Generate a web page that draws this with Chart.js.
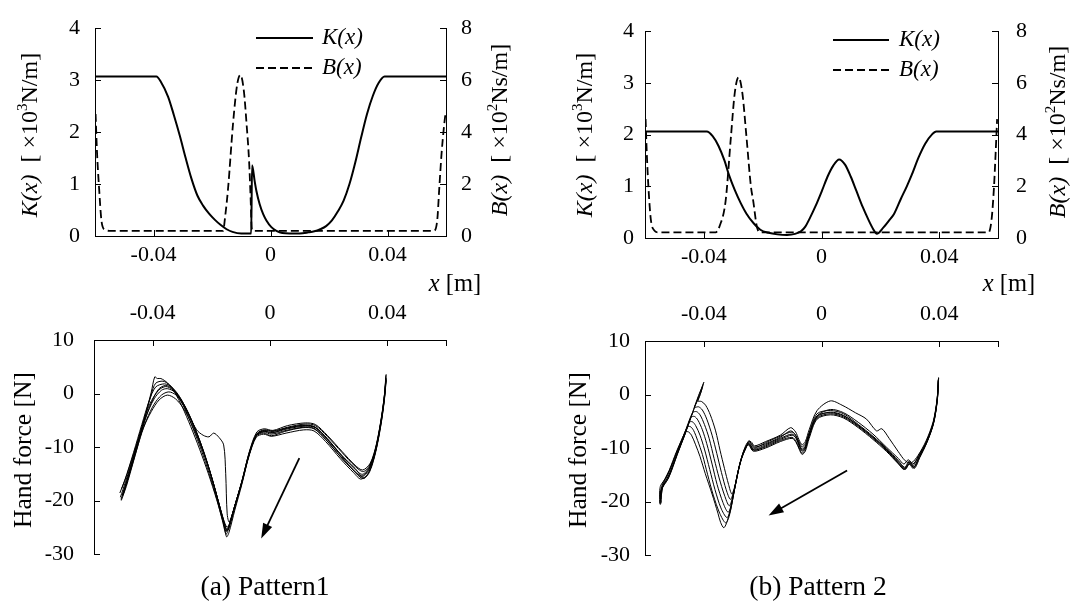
<!DOCTYPE html>
<html>
<head>
<meta charset="utf-8">
<script src="https://cdn.jsdelivr.net/npm/chart.js@4.4.1/dist/chart.umd.min.js"></script>
<style>
  body { margin: 0; background: #fff; }
  #wrap { position: relative; width: 1074px; height: 605px; }
  canvas { position: absolute; }
</style>
</head>
<body>
<div id="wrap">
  <canvas id="kbA" width="537" height="300" style="left:0;top:0"></canvas>
  <canvas id="kbB" width="537" height="300" style="left:537px;top:0"></canvas>
  <canvas id="hfA" width="537" height="305" style="left:0;top:300px"></canvas>
  <canvas id="hfB" width="537" height="305" style="left:537px;top:300px"></canvas>
</div>
<script>
// tick values
const xTickValues = [-0.04, 0, 0.04];

// pattern 1: stiffness K(x) [x10^3 N/m] and damping B(x) [x10^2 Ns/m]
const stiffX1 = [-0.060, -0.0390, -0.0375, -0.0350, -0.0330, -0.0310, -0.0290, -0.0270, -0.0250, -0.0230, -0.0210, -0.0190, -0.0170, -0.0150, -0.0130, -0.0100, -0.0066, -0.0063, -0.0054, -0.0048, -0.0037, -0.0025, -0.0014, 0.0003, 0.0020, 0.0040, 0.0100, 0.0130, 0.0150, 0.0170, 0.0190, 0.0210, 0.0230, 0.0250, 0.0270, 0.0290, 0.0310, 0.0330, 0.0350, 0.0370, 0.0390, 0.060];
const stiffK1 = [3.07, 3.07, 2.97, 2.68, 2.32, 1.93, 1.50, 1.10, 0.78, 0.58, 0.43, 0.31, 0.21, 0.13, 0.08, 0.05, 0.05, 1.36, 1.05, 0.86, 0.61, 0.42, 0.30, 0.17, 0.10, 0.06, 0.05, 0.07, 0.09, 0.13, 0.19, 0.30, 0.47, 0.68, 1.00, 1.42, 1.90, 2.35, 2.70, 2.95, 3.07, 3.07];
const dampX1 = [-0.0598, -0.0593, -0.0586, -0.0578, -0.0567, -0.0550, -0.0162, -0.0155, -0.0145, -0.0128, -0.0114, -0.0103, -0.0091, -0.0082, -0.0073, -0.0068, -0.0065, -0.0062, 0.0558, 0.0570, 0.0577, 0.0585, 0.0593, 0.0598];
const dampB1 = [4.70, 3.20, 1.84, 0.60, 0.25, 0.20, 0.20, 0.75, 1.84, 4.34, 5.83, 6.20, 5.58, 4.34, 2.84, 1.47, 0.47, 0.20, 0.20, 0.60, 1.84, 3.20, 4.20, 4.70];

// pattern 2
const stiffX2 = [-0.060, -0.0390, -0.0370, -0.0350, -0.0330, -0.0314, -0.0295, -0.0275, -0.0255, -0.0230, -0.0208, -0.0180, -0.0150, -0.0117, -0.0090, -0.0070, -0.0055, -0.0040, -0.0020, 0.0002, 0.0020, 0.0040, 0.0060, 0.0080, 0.0100, 0.0118, 0.0140, 0.0159, 0.0175, 0.0188, 0.0210, 0.0230, 0.0247, 0.0270, 0.0290, 0.0306, 0.0330, 0.0353, 0.0375, 0.0390, 0.060];
const stiffK2 = [2.06, 2.06, 1.97, 1.78, 1.50, 1.21, 0.93, 0.68, 0.47, 0.28, 0.16, 0.10, 0.07, 0.06, 0.08, 0.13, 0.22, 0.38, 0.62, 0.92, 1.18, 1.40, 1.52, 1.42, 1.18, 0.92, 0.60, 0.36, 0.18, 0.08, 0.20, 0.34, 0.47, 0.76, 1.00, 1.21, 1.56, 1.83, 2.00, 2.06, 2.06];
const dampX2 = [-0.0598, -0.0594, -0.0588, -0.0580, -0.0569, -0.0555, -0.0360, -0.0345, -0.0326, -0.0308, -0.0295, -0.0282, -0.0269, -0.0255, -0.0240, -0.0232, -0.0220, -0.0210, 0.0568, 0.0578, 0.0586, 0.0592, 0.0597];
const dampB2 = [4.60, 3.30, 1.90, 0.70, 0.30, 0.22, 0.22, 0.50, 1.43, 3.90, 5.60, 6.22, 5.60, 3.90, 2.00, 1.43, 0.45, 0.22, 0.22, 0.70, 1.90, 3.30, 4.60];

// hand force trials, pattern 1: [x (m), force (N)]
const forceA1 = [[-0.0508,-19.8],[-0.0490,-16.8],[-0.0460,-10.9],[-0.0430,-5.0],[-0.0405,0.2],[-0.0393,3.1],[-0.0384,2.8],[-0.0372,2.8],[-0.0350,2.0],[-0.0325,0.2],[-0.0300,-2.4],[-0.0270,-6.2],[-0.0240,-10.4],[-0.0210,-15.0],[-0.0182,-19.8],[-0.0162,-23.6],[-0.0150,-25.8],[-0.0142,-25.2],[-0.0120,-21.0],[-0.0095,-16.4],[-0.0070,-11.2],[-0.0045,-7.6],[-0.0020,-7.0],[0.0005,-7.4],[0.0050,-6.6],[0.0110,-6.0],[0.0150,-6.2],[0.0190,-8.2],[0.0240,-11.3],[0.0285,-13.9],[0.0315,-15.1],[0.0340,-13.6],[0.0362,-10.0],[0.0380,-4.8],[0.0390,-0.5],[0.0395,3.4]];
const forceA2 = [[-0.0503,-19.2],[-0.0485,-16.0],[-0.0455,-10.2],[-0.0428,-4.8],[-0.0405,-0.2],[-0.0390,1.9],[-0.0365,2.3],[-0.0342,1.6],[-0.0316,-0.2],[-0.0290,-2.9],[-0.0262,-6.6],[-0.0234,-10.6],[-0.0206,-15.2],[-0.0180,-20.0],[-0.0162,-23.8],[-0.0150,-26.3],[-0.0143,-25.6],[-0.0122,-21.4],[-0.0097,-16.8],[-0.0072,-11.6],[-0.0047,-8.0],[-0.0022,-7.4],[0.0005,-7.9],[0.0050,-7.1],[0.0110,-6.4],[0.0150,-6.6],[0.0190,-8.6],[0.0240,-11.8],[0.0285,-14.4],[0.0312,-15.6],[0.0338,-14.2],[0.0360,-10.6],[0.0378,-5.4],[0.0389,-1.0],[0.0396,2.8]];
const forceA3 = [[-0.0512,-18.6],[-0.0495,-16.2],[-0.0465,-11.0],[-0.0437,-5.8],[-0.0412,-1.4],[-0.0390,1.2],[-0.0360,1.8],[-0.0335,1.2],[-0.0308,-0.6],[-0.0282,-3.4],[-0.0254,-7.0],[-0.0227,-11.0],[-0.0200,-15.6],[-0.0176,-20.2],[-0.0160,-23.4],[-0.0148,-25.4],[-0.0141,-24.9],[-0.0120,-21.0],[-0.0096,-16.5],[-0.0071,-11.2],[-0.0046,-7.7],[-0.0020,-6.9],[0.0010,-7.1],[0.0060,-6.3],[0.0120,-5.7],[0.0155,-6.0],[0.0195,-8.0],[0.0245,-11.0],[0.0290,-13.6],[0.0318,-14.6],[0.0342,-13.2],[0.0362,-9.8],[0.0380,-4.5],[0.0391,0.2],[0.0395,3.0]];
const forceA4 = [[-0.0506,-17.8],[-0.0488,-15.2],[-0.0460,-10.4],[-0.0432,-5.4],[-0.0410,-2.0],[-0.0380,0.6],[-0.0355,1.3],[-0.0330,0.6],[-0.0302,-1.6],[-0.0275,-4.2],[-0.0250,-6.8],[-0.0228,-7.8],[-0.0208,-8.1],[-0.0192,-7.4],[-0.0174,-8.2],[-0.0158,-9.6],[-0.0151,-15.0],[-0.0146,-22.5],[-0.0139,-24.0],[-0.0118,-20.6],[-0.0094,-16.0],[-0.0070,-10.8],[-0.0045,-7.2],[-0.0020,-6.6],[0.0010,-6.9],[0.0060,-6.0],[0.0120,-5.5],[0.0155,-5.8],[0.0195,-7.8],[0.0245,-10.8],[0.0290,-13.4],[0.0316,-14.3],[0.0342,-13.0],[0.0363,-9.4],[0.0381,-4.0],[0.0392,0.6],[0.0396,3.6]];
const forceA5 = [[-0.0510,-19.4],[-0.0492,-16.4],[-0.0463,-11.4],[-0.0440,-7.4],[-0.0425,-4.6],[-0.0395,-1.0],[-0.0370,0.6],[-0.0350,0.9],[-0.0325,0.3],[-0.0300,-1.4],[-0.0275,-4.0],[-0.0248,-7.6],[-0.0222,-11.6],[-0.0196,-16.2],[-0.0174,-20.6],[-0.0158,-23.6],[-0.0147,-25.0],[-0.0140,-24.6],[-0.0119,-20.8],[-0.0095,-16.2],[-0.0070,-10.9],[-0.0045,-7.5],[-0.0020,-6.8],[0.0010,-7.0],[0.0060,-6.4],[0.0120,-5.9],[0.0155,-6.3],[0.0195,-8.4],[0.0245,-11.6],[0.0290,-14.0],[0.0320,-15.8],[0.0340,-14.6],[0.0361,-10.8],[0.0379,-5.6],[0.0390,-1.2],[0.0396,2.5]];
const forceA6 = [[-0.0500,-18.8],[-0.0482,-15.6],[-0.0452,-10.0],[-0.0426,-5.0],[-0.0405,-1.8],[-0.0380,0.8],[-0.0356,1.5],[-0.0332,0.9],[-0.0305,-1.0],[-0.0278,-3.8],[-0.0250,-7.3],[-0.0224,-11.2],[-0.0198,-15.8],[-0.0175,-20.4],[-0.0160,-23.6],[-0.0148,-25.6],[-0.0141,-25.0],[-0.0121,-21.2],[-0.0096,-16.6],[-0.0072,-11.5],[-0.0047,-7.9],[-0.0022,-7.2],[0.0005,-7.6],[0.0055,-6.9],[0.0115,-6.3],[0.0150,-6.5],[0.0190,-8.6],[0.0240,-11.8],[0.0285,-14.3],[0.0313,-15.4],[0.0338,-14.0],[0.0360,-10.4],[0.0379,-5.0],[0.0390,-0.8],[0.0395,2.9]];
const forceA7 = [[-0.0507,-20.0],[-0.0490,-17.4],[-0.0465,-12.6],[-0.0442,-8.2],[-0.0420,-4.8],[-0.0395,-2.0],[-0.0370,-0.3],[-0.0345,0.3],[-0.0320,-0.3],[-0.0295,-2.0],[-0.0270,-4.7],[-0.0243,-8.3],[-0.0218,-12.2],[-0.0193,-16.8],[-0.0172,-21.0],[-0.0157,-24.0],[-0.0148,-25.6],[-0.0141,-25.4],[-0.0120,-21.4],[-0.0095,-16.6],[-0.0071,-11.4],[-0.0046,-7.8],[-0.0020,-7.1],[0.0010,-7.3],[0.0060,-6.6],[0.0120,-6.1],[0.0155,-6.4],[0.0195,-8.6],[0.0245,-11.8],[0.0288,-14.6],[0.0318,-15.9],[0.0340,-14.4],[0.0361,-10.6],[0.0379,-5.2],[0.0390,-1.0],[0.0396,2.6]];
const forceA8 = [[-0.0504,-19.0],[-0.0488,-16.2],[-0.0470,-12.8],[-0.0456,-10.0],[-0.0430,-6.2],[-0.0405,-3.4],[-0.0378,-1.2],[-0.0350,-0.3],[-0.0322,-1.0],[-0.0295,-2.8],[-0.0268,-5.6],[-0.0240,-9.2],[-0.0213,-13.2],[-0.0190,-17.4],[-0.0170,-21.6],[-0.0156,-24.8],[-0.0148,-26.8],[-0.0140,-26.0],[-0.0120,-21.8],[-0.0096,-17.0],[-0.0072,-11.8],[-0.0047,-8.2],[-0.0022,-7.6],[0.0005,-8.0],[0.0055,-7.4],[0.0115,-6.8],[0.0150,-7.0],[0.0190,-9.0],[0.0240,-12.2],[0.0285,-14.8],[0.0310,-16.0],[0.0336,-14.8],[0.0359,-11.0],[0.0378,-5.8],[0.0389,-1.4],[0.0395,2.4]];
const trialsA = [forceA1, forceA2, forceA3, forceA4, forceA5, forceA6, forceA7, forceA8];

// hand force trials, pattern 2
const forceB1 = [[-0.0546,-20.4],[-0.0545,-17.6],[-0.0520,-15.6],[-0.0490,-11.2],[-0.0460,-6.8],[-0.0430,-2.2],[-0.0410,0.8],[-0.0400,2.3],[-0.0410,0.4],[-0.0420,-1.2],[-0.0408,-1.3],[-0.0394,-2.0],[-0.0378,-3.8],[-0.0360,-6.8],[-0.0345,-10.4],[-0.0330,-13.8],[-0.0316,-16.8],[-0.0305,-18.6],[-0.0297,-17.6],[-0.0288,-15.6],[-0.0278,-13.0],[-0.0265,-10.6],[-0.0252,-9.0],[-0.0240,-8.8],[-0.0228,-9.6],[-0.0190,-8.8],[-0.0140,-7.6],[-0.0105,-6.2],[-0.0088,-7.0],[-0.0077,-8.4],[-0.0066,-9.4],[-0.0055,-8.8],[-0.0042,-6.6],[-0.0015,-3.0],[0.0030,-1.2],[0.0070,-2.0],[0.0115,-3.4],[0.0153,-4.6],[0.0187,-6.8],[0.0205,-6.4],[0.0230,-8.2],[0.0260,-10.6],[0.0285,-12.4],[0.0305,-12.8],[0.0328,-11.4],[0.0356,-8.6],[0.0380,-5.0],[0.0393,-0.8],[0.0398,3.0]];
const forceB2 = [[-0.0548,-20.6],[-0.0546,-18.0],[-0.0522,-15.8],[-0.0492,-11.4],[-0.0462,-7.0],[-0.0440,-3.6],[-0.0418,-0.2],[-0.0404,1.6],[-0.0416,-0.6],[-0.0432,-2.4],[-0.0418,-2.3],[-0.0405,-2.9],[-0.0390,-4.6],[-0.0372,-7.6],[-0.0356,-11.0],[-0.0340,-14.6],[-0.0324,-17.8],[-0.0310,-19.6],[-0.0301,-18.6],[-0.0290,-16.2],[-0.0279,-13.4],[-0.0266,-10.8],[-0.0253,-9.4],[-0.0242,-9.0],[-0.0228,-9.8],[-0.0190,-9.2],[-0.0140,-8.0],[-0.0105,-6.8],[-0.0088,-7.6],[-0.0077,-8.8],[-0.0066,-9.8],[-0.0055,-9.2],[-0.0042,-7.2],[-0.0015,-4.0],[0.0030,-2.8],[0.0075,-3.4],[0.0125,-5.2],[0.0175,-7.4],[0.0220,-9.8],[0.0262,-12.0],[0.0280,-13.0],[0.0295,-12.2],[0.0310,-13.0],[0.0330,-11.6],[0.0358,-8.8],[0.0381,-5.2],[0.0394,-0.8],[0.0398,3.2]];
const forceB3 = [[-0.0547,-19.8],[-0.0540,-17.4],[-0.0515,-14.6],[-0.0488,-10.6],[-0.0460,-6.4],[-0.0438,-3.4],[-0.0425,-3.2],[-0.0413,-3.8],[-0.0398,-5.6],[-0.0382,-8.2],[-0.0365,-12.0],[-0.0348,-15.6],[-0.0330,-18.8],[-0.0314,-20.8],[-0.0304,-19.6],[-0.0292,-16.8],[-0.0281,-13.8],[-0.0268,-11.2],[-0.0255,-9.6],[-0.0244,-9.4],[-0.0229,-10.4],[-0.0190,-9.6],[-0.0140,-8.4],[-0.0100,-7.6],[-0.0086,-8.2],[-0.0076,-9.4],[-0.0066,-10.4],[-0.0055,-9.8],[-0.0042,-7.6],[-0.0015,-4.2],[0.0030,-3.3],[0.0075,-3.9],[0.0125,-5.8],[0.0175,-8.0],[0.0220,-10.2],[0.0262,-12.6],[0.0285,-13.8],[0.0300,-12.4],[0.0315,-13.6],[0.0333,-11.8],[0.0358,-9.0],[0.0381,-5.4],[0.0393,-1.2],[0.0397,2.6]];
const forceB4 = [[-0.0545,-20.2],[-0.0544,-17.8],[-0.0518,-15.0],[-0.0490,-11.0],[-0.0465,-7.6],[-0.0444,-4.3],[-0.0432,-4.1],[-0.0420,-4.8],[-0.0405,-6.6],[-0.0390,-9.2],[-0.0372,-13.0],[-0.0355,-16.8],[-0.0335,-20.2],[-0.0318,-22.0],[-0.0308,-21.0],[-0.0295,-17.6],[-0.0283,-14.2],[-0.0270,-11.6],[-0.0256,-9.8],[-0.0246,-8.6],[-0.0230,-10.0],[-0.0190,-9.0],[-0.0140,-7.8],[-0.0100,-7.0],[-0.0086,-7.8],[-0.0076,-9.2],[-0.0066,-10.2],[-0.0055,-9.6],[-0.0042,-7.2],[-0.0015,-3.6],[0.0030,-3.0],[0.0075,-3.6],[0.0125,-5.6],[0.0175,-7.8],[0.0220,-10.0],[0.0262,-12.4],[0.0282,-13.6],[0.0298,-13.0],[0.0312,-13.8],[0.0332,-11.6],[0.0358,-8.9],[0.0381,-5.2],[0.0394,-0.8],[0.0398,3.0]];
const forceB5 = [[-0.0550,-20.4],[-0.0548,-17.2],[-0.0524,-15.2],[-0.0495,-11.2],[-0.0470,-8.2],[-0.0450,-5.2],[-0.0439,-5.1],[-0.0428,-5.8],[-0.0413,-7.6],[-0.0398,-10.2],[-0.0380,-14.0],[-0.0362,-17.8],[-0.0342,-21.2],[-0.0322,-23.0],[-0.0311,-22.0],[-0.0298,-18.4],[-0.0285,-14.8],[-0.0272,-12.0],[-0.0258,-10.2],[-0.0248,-9.2],[-0.0232,-10.4],[-0.0190,-9.8],[-0.0140,-8.6],[-0.0100,-8.0],[-0.0086,-8.8],[-0.0076,-10.0],[-0.0066,-11.0],[-0.0055,-10.2],[-0.0042,-7.8],[-0.0015,-4.4],[0.0030,-3.6],[0.0075,-4.2],[0.0125,-6.0],[0.0175,-8.2],[0.0220,-10.4],[0.0260,-12.8],[0.0280,-14.0],[0.0296,-12.6],[0.0310,-13.4],[0.0330,-11.4],[0.0357,-8.8],[0.0380,-5.4],[0.0393,-1.0],[0.0397,2.8]];
const forceB6 = [[-0.0546,-19.6],[-0.0538,-16.8],[-0.0512,-13.6],[-0.0488,-10.2],[-0.0470,-7.8],[-0.0456,-6.1],[-0.0446,-6.0],[-0.0435,-6.7],[-0.0421,-8.6],[-0.0405,-11.2],[-0.0387,-15.0],[-0.0368,-18.8],[-0.0346,-22.2],[-0.0326,-24.0],[-0.0314,-22.8],[-0.0300,-19.0],[-0.0287,-15.2],[-0.0273,-12.2],[-0.0258,-10.0],[-0.0247,-9.0],[-0.0231,-10.2],[-0.0190,-9.4],[-0.0140,-8.2],[-0.0100,-7.4],[-0.0086,-8.2],[-0.0076,-9.6],[-0.0066,-10.6],[-0.0055,-10.0],[-0.0042,-7.6],[-0.0015,-4.0],[0.0030,-3.4],[0.0075,-4.0],[0.0125,-5.8],[0.0175,-8.0],[0.0220,-10.2],[0.0262,-12.8],[0.0285,-14.0],[0.0300,-12.8],[0.0316,-13.8],[0.0334,-11.8],[0.0358,-9.0],[0.0381,-5.4],[0.0394,-1.0],[0.0398,3.0]];
const forceB7 = [[-0.0549,-20.0],[-0.0542,-17.0],[-0.0518,-14.2],[-0.0494,-10.8],[-0.0475,-8.4],[-0.0462,-7.0],[-0.0452,-7.0],[-0.0442,-7.6],[-0.0428,-9.4],[-0.0413,-11.6],[-0.0395,-14.8],[-0.0372,-18.6],[-0.0352,-22.2],[-0.0343,-23.9],[-0.0332,-24.9],[-0.0320,-23.6],[-0.0305,-20.0],[-0.0290,-16.0],[-0.0276,-12.6],[-0.0260,-10.2],[-0.0248,-9.4],[-0.0232,-10.6],[-0.0190,-10.0],[-0.0140,-8.8],[-0.0100,-8.2],[-0.0086,-9.0],[-0.0076,-10.2],[-0.0066,-11.2],[-0.0055,-10.6],[-0.0042,-8.2],[-0.0015,-4.6],[0.0030,-3.8],[0.0075,-4.4],[0.0125,-6.2],[0.0175,-8.4],[0.0220,-10.6],[0.0262,-13.0],[0.0282,-14.0],[0.0298,-13.0],[0.0314,-13.6],[0.0332,-11.6],[0.0357,-8.8],[0.0380,-5.2],[0.0393,-1.0],[0.0397,2.8]];
const trialsB = [forceB1, forceB2, forceB3, forceB4, forceB5, forceB6, forceB7];

// direction arrows [start, end] in data units
const arrowA = [[0.0100, -12.1], [-0.0030, -27.1]];
const arrowB = [[0.0087, -14.2], [-0.0180, -22.6]];

const FONT = '"Liberation Serif", "Times New Roman", serif';
Chart.defaults.font.family = FONT;
Chart.defaults.color = '#000';

function drawRich(ctx, t) {
  const size = t.size || 23;
  const fontFor = st => (st === 'i' ? 'italic ' : '') + (st === 's' ? Math.round(size * 0.62) : size) + 'px ' + FONT;
  ctx.save();
  ctx.translate(t.x, t.y);
  if (t.rot) ctx.rotate(-Math.PI / 2);
  ctx.textBaseline = 'middle';
  ctx.textAlign = 'left';
  let w = 0;
  t.segs.forEach(([s, st]) => { ctx.font = fontFor(st); w += ctx.measureText(s).width; });
  let cx = t.align === 'left' ? 0 : -w / 2;
  t.segs.forEach(([s, st]) => {
    ctx.font = fontFor(st);
    ctx.fillText(s, cx, st === 's' ? -size * 0.33 : 0);
    cx += ctx.measureText(s).width;
  });
  ctx.restore();
}

// inward tick marks, titles, legend and arrow
function decor(cfg) {
  return {
    id: 'decor',
    afterDraw(chart) {
      const ctx = chart.ctx, area = chart.chartArea;
      ctx.save();
      ctx.strokeStyle = '#000';
      ctx.fillStyle = '#000';
      ctx.lineWidth = 1;
      Object.values(chart.scales).forEach(s => {
        const vals = s.ticks.map(t => t.value).concat(s.axis === 'x' ? (cfg.extraX || []) : []);
        vals.forEach(v => {
          const p = Math.round(s.getPixelForValue(v)) + 0.5;
          ctx.beginPath();
          if (s.position === 'left') { ctx.moveTo(area.left, p); ctx.lineTo(area.left + 6, p); }
          else if (s.position === 'right') { ctx.moveTo(area.right, p); ctx.lineTo(area.right - 6, p); }
          else if (s.position === 'bottom') { ctx.moveTo(p, area.bottom); ctx.lineTo(p, area.bottom - 6); }
          else { ctx.moveTo(p, area.top); ctx.lineTo(p, area.top + 6); }
          ctx.stroke();
        });
      });

      (cfg.legend || []).forEach(it => {
        const ds = chart.data.datasets[it.ds];
        ctx.lineWidth = ds.borderWidth;
        ctx.setLineDash(ds.borderDash || []);
        ctx.beginPath();
        ctx.moveTo(it.x1, it.y);
        ctx.lineTo(it.x2, it.y);
        ctx.stroke();
        ctx.setLineDash([]);
        drawRich(ctx, { x: it.tx, y: it.y, align: 'left', segs: [[ds.label, 'i']] });
      });

      if (cfg.arrow) {
        const xs = chart.scales.x, ys = chart.scales.y;
        const x1 = xs.getPixelForValue(cfg.arrow[0][0]), y1 = ys.getPixelForValue(cfg.arrow[0][1]);
        const x2 = xs.getPixelForValue(cfg.arrow[1][0]), y2 = ys.getPixelForValue(cfg.arrow[1][1]);
        const a = Math.atan2(y2 - y1, x2 - x1);
        const L = 15, W = 5;
        ctx.lineWidth = 1.8;
        ctx.beginPath();
        ctx.moveTo(x1, y1);
        ctx.lineTo(x2 - Math.cos(a) * L * 0.8, y2 - Math.sin(a) * L * 0.8);
        ctx.stroke();
        ctx.beginPath();
        ctx.moveTo(x2, y2);
        ctx.lineTo(x2 - L * Math.cos(a) + W * Math.sin(a), y2 - L * Math.sin(a) - W * Math.cos(a));
        ctx.lineTo(x2 - L * Math.cos(a) - W * Math.sin(a), y2 - L * Math.sin(a) + W * Math.cos(a));
        ctx.closePath();
        ctx.fill();
      }

      (cfg.texts || []).forEach(t => drawRich(ctx, t));
      ctx.restore();
    }
  };
}

const tickFont = { family: FONT, size: 22 };

function xAxis(pos, height, pad) {
  return {
    type: 'linear', position: pos, min: -0.06, max: 0.06,
    afterBuildTicks: s => { s.ticks = xTickValues.map(v => ({ value: v })); },
    ticks: { padding: pad, font: tickFont, maxRotation: 0, autoSkip: false,
             callback: v => (v === 0 ? '0' : v.toFixed(2)) },
    grid: { display: false, drawTicks: false },
    border: { display: true, color: '#000', width: 1 },
    afterFit: s => { s.height = height; }
  };
}

function yAxis(pos, min, max, step, width, pad) {
  return {
    type: 'linear', position: pos, min: min, max: max,
    ticks: { stepSize: step, padding: pad, font: tickFont },
    grid: { display: false, drawTicks: false },
    border: { display: true, color: '#000', width: 1 },
    afterFit: s => { s.width = width; }
  };
}

function makeTop(id, kX, kY, bX, bY, geo, cfg) {
  return new Chart(document.getElementById(id), {
    type: 'scatter',
    data: {
      datasets: [
        { label: 'K(x)', data: kX.map((x, i) => ({ x: x, y: kY[i] })), yAxisID: 'y',
          showLine: true, borderColor: '#000', borderWidth: 2, pointRadius: 0, cubicInterpolationMode: 'monotone' },
        { label: 'B(x)', data: bX.map((x, i) => ({ x: x, y: bY[i] })), yAxisID: 'y2',
          showLine: true, borderColor: '#000', borderWidth: 1.8, borderDash: [8, 4], pointRadius: 0, cubicInterpolationMode: 'monotone' }
      ]
    },
    options: {
      responsive: false, animation: false, events: [],
      layout: { autoPadding: false, padding: { top: geo.top, left: 0, right: 0, bottom: 0 } },
      plugins: { legend: { display: false }, tooltip: { enabled: false } },
      scales: {
        x: xAxis('bottom', geo.xh, 6),
        y: yAxis('left', 0, 4, 1, geo.yw, geo.ypad),
        y2: yAxis('right', 0, 8, 2, geo.y2w, geo.y2pad)
      }
    },
    plugins: [decor(cfg)]
  });
}

function makeForce(id, trials, geo, cfg) {
  return new Chart(document.getElementById(id), {
    type: 'scatter',
    data: {
      datasets: trials.map(t => ({
        data: t.map(p => ({ x: p[0], y: p[1] })),
        showLine: true, borderColor: '#000', borderWidth: 1, pointRadius: 0, tension: 0.3
      }))
    },
    options: {
      responsive: false, animation: false, events: [],
      layout: { autoPadding: false, padding: { top: 0, left: 0, right: geo.right, bottom: geo.bottom } },
      plugins: { legend: { display: false }, tooltip: { enabled: false } },
      scales: {
        x: xAxis('top', geo.xh, 14),
        y: yAxis('left', -30, 10, 10, geo.yw, geo.ypad)
      }
    },
    plugins: [decor(cfg)]
  });
}

const kTitle = [['K(x)', 'i'], ['  [ \u00d710', ''], ['3', 's'], ['N/m]', '']];
const bTitle = [['B(x)', 'i'], ['  [ \u00d710', ''], ['2', 's'], ['Ns/m]', '']];
const xTitle = [['x', 'i'], [' [m]', '']];
const fTitle = [['Hand force [N]', '']];

makeTop('kbA', stiffX1, stiffK1, dampX1, dampB1,
  { top: 22, xh: 64, yw: 95, y2w: 91, ypad: 15, y2pad: 15 },
  {
    legend: [{ ds: 0, x1: 256, x2: 313, y: 38, tx: 322 }, { ds: 1, x1: 256, x2: 313, y: 68, tx: 322 }],
    texts: [
      { x: 31, y: 135, rot: true, size: 24, segs: kTitle },
      { x: 501, y: 130, rot: true, size: 24, segs: bTitle },
      { x: 455, y: 285, size: 24.5, segs: xTitle }
    ]
  });

makeTop('kbB', stiffX2, stiffK2, dampX2, dampB2,
  { top: 24, xh: 62, yw: 108, y2w: 76, ypad: 11, y2pad: 18 },
  {
    legend: [{ ds: 0, x1: 296, x2: 352, y: 40, tx: 362 }, { ds: 1, x1: 296, x2: 352, y: 70, tx: 362 }],
    texts: [
      { x: 49, y: 135, rot: true, size: 24, segs: kTitle },
      { x: 522, y: 132, rot: true, size: 24, segs: bTitle },
      { x: 472, y: 285, size: 24.5, segs: xTitle }
    ]
  });

makeForce('hfA', trialsA,
  { xh: 40, yw: 94, right: 91, bottom: 51, ypad: 20 },
  {
    extraX: [0.06],
    arrow: arrowA,
    texts: [
      { x: 24, y: 150, rot: true, size: 25.5, segs: fTitle },
      { x: 265, y: 288, size: 27.5, segs: [['(a) Pattern1', '']] }
    ]
  });

makeForce('hfB', trialsB,
  { xh: 41, yw: 108, right: 76, bottom: 50, ypad: 15 },
  {
    extraX: [0.06],
    arrow: arrowB,
    texts: [
      { x: 42, y: 150, rot: true, size: 25.5, segs: fTitle },
      { x: 281, y: 288, size: 27.5, segs: [['(b) Pattern 2', '']] }
    ]
  });
</script>
</body>
</html>
